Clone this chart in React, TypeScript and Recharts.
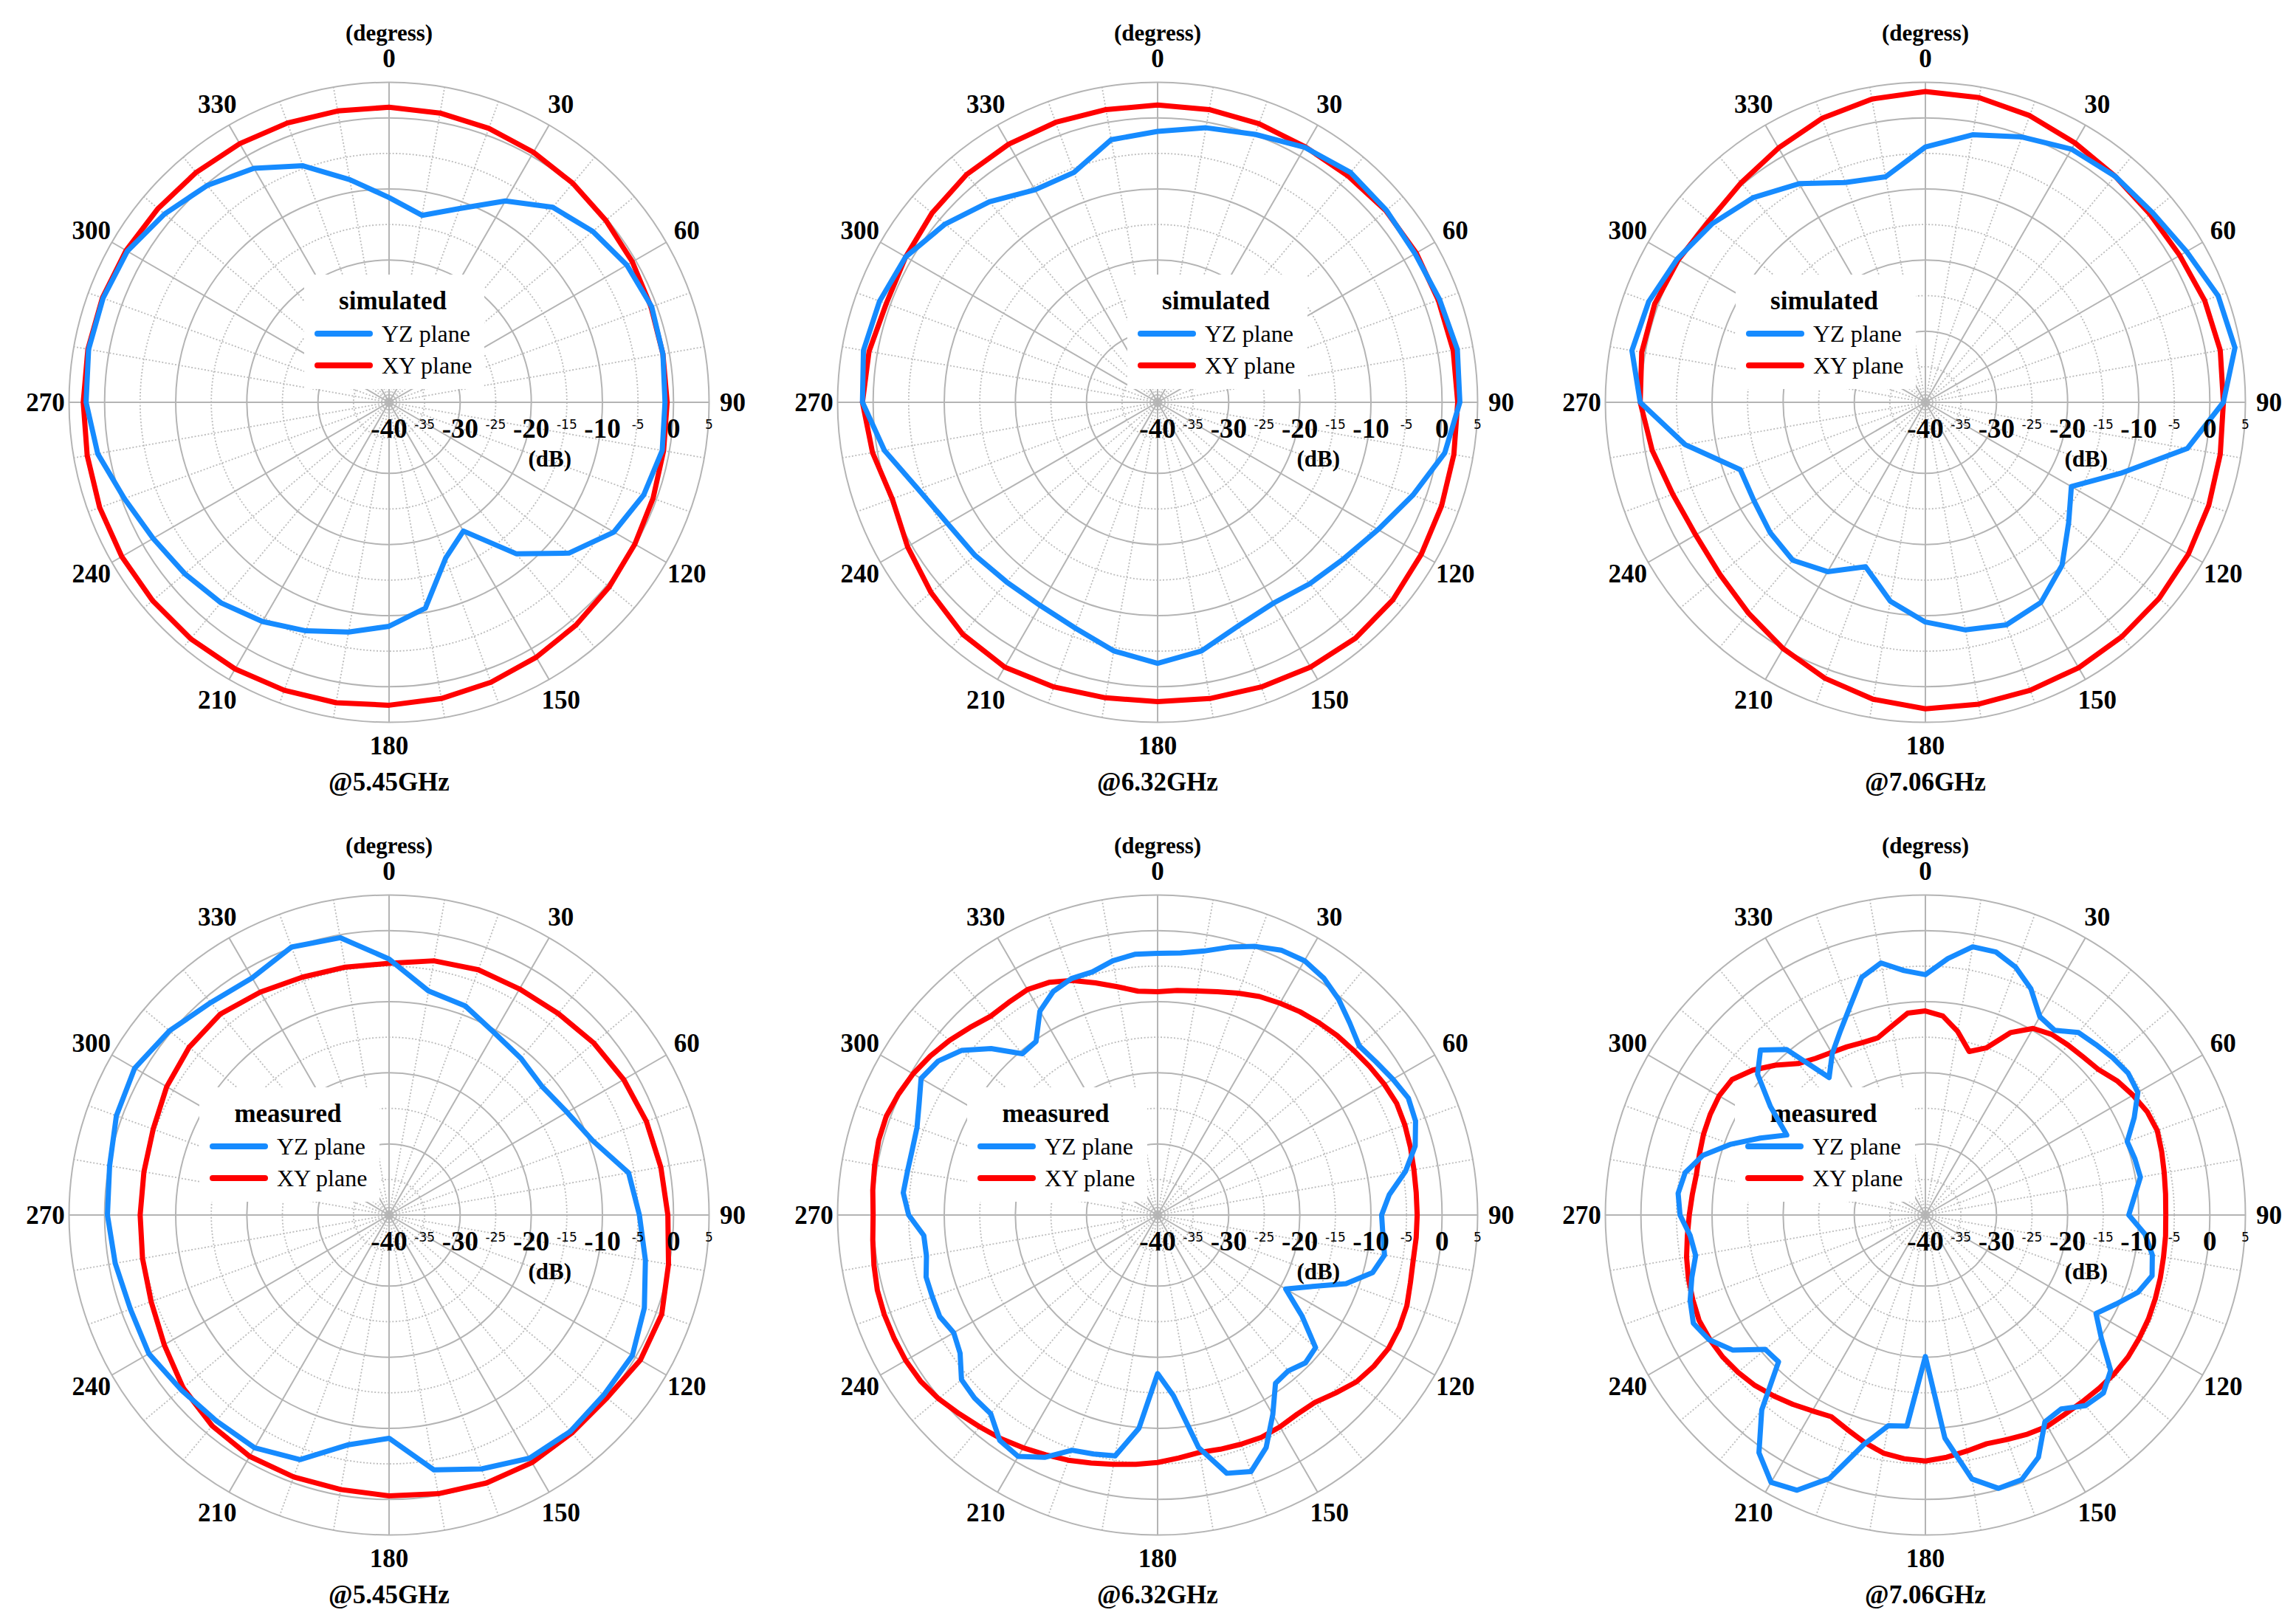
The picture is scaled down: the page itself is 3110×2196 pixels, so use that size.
import React from 'react';
import { RadarChart, Radar, PolarGrid, PolarAngleAxis, PolarRadiusAxis } from 'recharts';

// angle categories (degrees, clockwise from top)
const ANGLES_10 = Array.from({ length: 36 }, (_, i) => i * 10);
const ANGLES_5 = Array.from({ length: 72 }, (_, i) => i * 5);

const RADIUS_TICKS = [-40, -35, -30, -25, -20, -15, -10, -5, 0, 5];
const SOLID_RINGS = [-30, -20, -10, 0, 5];
const DOTTED_RINGS = [-35, -25, -15, -5];

// simulated @5.45GHz (10 deg steps)
const sim545YZ = [-11.2, -13.3, -11.0, -7.3, -4.2, -2.6, -1.4, -0.7, -0.9, -1.2, -1.0, -1.9, -3.5, -7.0, -12.2, -19.1, -16.7, -10.6, -8.5, -7.2, -5.8, -4.4, -3.2, -2.5, -1.7, -0.4, 1.6, 2.6, 2.9, 2.8, 2.5, 1.2, -0.2, -2.0, -4.6, -8.2];
const sim545XY = [1.5, 1.3, 1.0, 0.6, 0.2, -0.2, -0.5, -0.8, -0.9, -0.9, -0.8, -0.5, -0.1, 0.4, 0.9, 1.4, 1.9, 2.3, 2.6, 2.9, 3.1, 3.3, 3.4, 3.4, 3.4, 3.3, 3.1, 3.0, 3.0, 2.9, 2.7, 2.4, 2.2, 2.0, 1.8, 1.6];

// simulated @6.32GHz
const sim632YZ = [-1.9, -0.8, 0.1, 1.4, 2.2, 2.0, 1.8, 2.2, 2.8, 2.5, 1.0, -1.8, -4.2, -5.8, -6.7, -7.4, -6.6, -4.5, -3.3, -4.5, -6.2, -7.0, -7.0, -6.5, -5.9, -4.2, -1.0, 1.5, 2.0, 1.6, 0.9, -1.0, -3.2, -5.5, -5.6, -2.5];
const sim632XY = [1.8, 1.8, 1.7, 1.5, 1.6, 1.9, 2.0, 2.0, 2.2, 2.2, 2.3, 2.5, 2.8, 3.2, 3.3, 3.0, 2.6, 2.3, 2.1, 2.2, 2.6, 3.0, 2.6, 1.6, 0.6, -0.3, 0.7, 1.5, 1.2, 0.6, 0.9, 1.4, 1.8, 1.9, 1.9, 1.8];

// simulated @7.06GHz
const sim706YZ = [-4.1, -1.8, -0.3, 1.1, 1.5, 1.6, 2.4, 3.8, 4.2, 1.9, -2.6, -10.8, -16.3, -13.7, -10.1, -7.5, -6.7, -7.5, -9.1, -11.6, -15.4, -12.5, -11.0, -11.5, -12.2, -12.3, -5.7, 0.1, 1.9, 1.4, 0.3, -0.9, -2.4, -4.5, -7.1, -7.8];
const sim706XY = [3.7, 3.5, 2.9, 2.1, 1.5, 1.2, 1.3, 1.8, 2.1, 1.9, 2.1, 2.4, 2.7, 2.9, 3.0, 3.1, 3.1, 3.1, 3.1, 2.4, 1.3, 0.0, -1.3, -2.3, -2.7, -2.2, -1.0, 0.1, 0.5, 0.5, 0.1, -0.3, 0.3, 1.3, 2.5, 3.3];

// measured @5.45GHz (10 deg steps)
const meas545YZ = [-4.0, -8.0, -8.7, -10.4, -11.2, -11.9, -11.1, -9.5, -5.8, -4.8, -3.4, -1.8, -0.5, -0.6, -0.3, -0.5, -2.0, -3.6, -8.6, -7.2, -3.4, -2.2, -2.2, -1.8, -1.0, -1.3, -0.9, -0.4, -0.1, 0.8, 1.3, 0.3, -1.0, -1.5, 0.1, -0.4];
const meas545XY = [-4.6, -3.7, -3.3, -3.3, -3.0, -2.4, -1.9, -1.5, -1.2, -0.8, -0.1, 0.8, 0.8, 0.0, 0.0, 0.2, 0.1, -0.2, -0.5, -0.8, -0.8, -0.8, -1.3, -2.2, -3.5, -4.4, -4.8, -5.0, -5.0, -4.7, -3.9, -3.3, -3.1, -3.8, -4.4, -4.6];

// measured @6.32GHz (5 deg steps)
const meas632YZ = [
  -3.2, -3.0, -2.3, -1.0, 0.2, 1.1, 1.3, 0.7, -0.4, -1.8,
  -3.0, -2.5, -1.8, -1.1, -1.4, -2.5, -4.6, -7.3, -8.5, -8.2,
  -7.6, -8.7, -11.8, -16.2, -19.2, -15.2, -11.0, -10.6, -11.4, -11.1,
  -7.6, -3.9, -1.6, -2.4, -6.8, -14.5, -17.7, -9.9, -5.6, -5.2,
  -4.8, -2.4, -0.8, -1.3, -3.5, -3.6, -4.0, -6.1, -6.9, -6.2,
  -6.3, -6.3, -7.0, -7.0, -5.0, -4.1, -4.3, -4.3, -4.0, -3.0,
  -1.6, -2.3, -4.0, -6.9, -10.4, -10.2, -6.9, -5.3, -4.6, -4.6,
  -3.7, -3.2,
];
const meas632XY = [
  -8.6, -8.3, -8.0, -7.5, -6.8, -6.1, -5.6, -5.1, -4.7, -4.3,
  -4.0, -3.6, -3.2, -2.9, -3.0, -3.2, -3.4, -3.5, -3.5, -3.5,
  -3.5, -3.2, -2.7, -2.5, -2.5, -2.9, -3.5, -4.6, -5.6, -5.8,
  -5.6, -5.5, -5.7, -5.9, -6.1, -5.7, -5.2, -4.8, -4.4, -3.9,
  -3.3, -2.8, -2.2, -1.6, -1.1, -0.5, 0.2, 0.7, 0.9, 0.9,
  0.9, 0.8, 0.5, 0.2, 0.0, 0.2, 0.4, 0.6, 0.6, 0.2,
  -0.3, -1.0, -1.8, -2.7, -3.5, -3.5, -3.4, -3.9, -4.9, -6.2,
  -7.4, -8.4,
];

// measured @7.06GHz (5 deg steps)
const meas706YZ = [
  -6.2, -3.8, -1.7, -1.7, -2.9, -4.9, -7.8, -8.3, -6.5, -6.1,
  -5.6, -5.2, -5.5, -7.6, -9.8, -9.5, -9.3, -10.5, -11.4, -9.0,
  -7.6, -7.0, -8.2, -10.4, -12.3, -9.8, -6.0, -4.6, -5.0, -6.7,
  -6.4, -2.4, -0.4, -0.2, -2.3, -8.5, -20.1, -10.2, -9.9, -6.6,
  -0.6, 2.7, 3.4, 0.8, -4.2, -10.8, -10.6, -6.9, -4.9, -4.0,
  -4.8, -6.0, -7.2, -6.8, -5.5, -5.1, -5.7, -7.6, -10.9, -14.4,
  -17.5, -13.4, -9.2, -7.2, -9.6, -16.4, -13.8, -11.6, -8.9, -5.4,
  -4.0, -5.5,
];
const meas706XY = [
  -11.3, -11.9, -13.8, -16.2, -15.0, -11.7, -9.7, -9.0, -8.8, -8.6,
  -8.2, -7.1, -6.3, -5.6, -5.3, -5.6, -5.9, -6.1, -6.2, -6.1,
  -6.0, -5.8, -5.6, -5.4, -5.3, -5.2, -5.3, -5.5, -5.7, -5.8,
  -5.7, -6.0, -6.4, -6.7, -6.3, -5.8, -5.4, -5.6, -6.0, -6.9,
  -7.9, -8.7, -8.2, -7.5, -6.8, -6.1, -5.6, -5.2, -5.0, -4.9,
  -5.2, -5.5, -5.9, -6.4, -6.8, -7.1, -7.3, -7.1, -6.8, -6.6,
  -6.5, -6.8, -8.3, -10.2, -12.2, -13.1, -13.6, -13.9, -14.2, -14.2,
  -13.0, -11.5,
];

const CHARTS = [
  { title: '@5.45GHz', kind: 'simulated', legendDx: -97, angles: ANGLES_10, yz: sim545YZ, xy: sim545XY },
  { title: '@6.32GHz', kind: 'simulated', legendDx: -23, angles: ANGLES_10, yz: sim632YZ, xy: sim632XY },
  { title: '@7.06GHz', kind: 'simulated', legendDx: -239, angles: ANGLES_10, yz: sim706YZ, xy: sim706XY },
  { title: '@5.45GHz', kind: 'measured', legendDx: -239, angles: ANGLES_10, yz: meas545YZ, xy: meas545XY },
  { title: '@6.32GHz', kind: 'measured', legendDx: -240, angles: ANGLES_5, yz: meas632YZ, xy: meas632XY },
  { title: '@7.06GHz', kind: 'measured', legendDx: -240, angles: ANGLES_5, yz: meas706YZ, xy: meas706XY },
];

const COL_LEFT = [7, 1048, 2088];
const ROW_TOP = [0, 1101];
const W = 1040;
const H = 1100;
const CX = 520;
const CY = 545;
const OUTER_R = 433.5;
const R_MIN = -40;
const R_MAX = 5;

const BLUE = '#168bff';
const RED = '#ff0000';
const GRID = '#b4b4b4';
const SERIF = '"Liberation Serif", "Times New Roman", serif';
const SANS = '"DejaVu Sans", Verdana, sans-serif';

const ringPx = (v: number) => ((v - R_MIN) / (R_MAX - R_MIN)) * OUTER_R;
const solidAngles = ANGLES_10.filter(a => a % 30 === 0);
const dottedAngles = ANGLES_10.filter(a => a % 30 !== 0);

const AngleTick = (props: any) => {
  const { x, y, payload } = props;
  const v = Number(payload.value);
  if (v % 30 !== 0) return <g />;
  return (
    <g>
      <text x={x} y={y} textAnchor="middle" dominantBaseline="central"
        fontFamily={SERIF} fontWeight="bold" fontSize={35} fill="#000">{v}</text>
      {v === 0 && (
        <text x={x} y={y - 35} textAnchor="middle" dominantBaseline="central"
          fontFamily={SERIF} fontWeight="bold" fontSize={31} fill="#000">(degress)</text>
      )}
    </g>
  );
};

const RadiusTick = (props: any) => {
  const { x, y, payload } = props;
  const v = Number(payload.value);
  const big = v % 10 === 0;
  return (
    <g>
      {big ? (
        <text x={x} y={y + 35} textAnchor="middle" dominantBaseline="central"
          fontFamily={SERIF} fontWeight="bold" fontSize={37} fill="#000">{v}</text>
      ) : (
        <text x={x} y={y + 30} textAnchor="middle" dominantBaseline="central"
          fontFamily={SANS} fontSize={17} fill="#000">{v}</text>
      )}
      {v === -15 && (
        <text x={x - 23} y={y + 76} textAnchor="middle" dominantBaseline="central"
          fontFamily={SERIF} fontWeight="bold" fontSize={31} fill="#000">(dB)</text>
      )}
    </g>
  );
};

const LegendBox = ({ dx, title }: { dx: number; title: string }) => {
  const x0 = CX + dx;
  return (
    <g>
      <rect x={x0 - 18} y={CY - 173} width={244} height={155} fill="#fff" />
      <text x={x0 + 102} y={CY - 126} textAnchor="middle" fontFamily={SERIF}
        fontWeight="bold" fontSize={35} fill="#000">{title}</text>
      <line x1={x0} x2={x0 + 71} y1={CY - 93} y2={CY - 93} stroke={BLUE} strokeWidth={8} strokeLinecap="round" />
      <text x={x0 + 87} y={CY - 82} fontFamily={SERIF} fontSize={32} fill="#000">YZ plane</text>
      <line x1={x0} x2={x0 + 71} y1={CY - 50} y2={CY - 50} stroke={RED} strokeWidth={8} strokeLinecap="round" />
      <text x={x0 + 87} y={CY - 39} fontFamily={SERIF} fontSize={32} fill="#000">XY plane</text>
    </g>
  );
};

const PatternChart = ({ cfg }: { cfg: typeof CHARTS[number] }) => {
  const data = cfg.angles.map((a, i) => ({ angle: a, yz: cfg.yz[i], xy: cfg.xy[i] }));
  return (
    <RadarChart width={W} height={H} data={data} cx={CX} cy={CY} innerRadius={0} outerRadius={OUTER_R}
      startAngle={90} endAngle={-270} margin={{ top: 0, right: 0, bottom: 0, left: 0 }}>
      <PolarGrid gridType="circle" polarAngles={dottedAngles} polarRadius={DOTTED_RINGS.map(ringPx)}
        stroke="#bcbcbc" strokeWidth={1.8} strokeDasharray="2 2.5" />
      <PolarGrid gridType="circle" polarAngles={solidAngles} polarRadius={SOLID_RINGS.map(ringPx)}
        stroke={GRID} strokeWidth={2} />
      <PolarAngleAxis dataKey="angle" tick={AngleTick} tickLine={false} axisLine={false} tickSize={32} />
      <PolarRadiusAxis angle={0} type="number" domain={[R_MIN, R_MAX]} ticks={RADIUS_TICKS} tickCount={10}
        allowDataOverflow axisLine={false} tickLine={false} tick={RadiusTick} />
      <LegendBox dx={cfg.legendDx} title={cfg.kind} />
      <Radar dataKey="xy" stroke={RED} strokeWidth={7} fill="none" fillOpacity={0}
        strokeLinejoin="round" isAnimationActive={false} />
      <Radar dataKey="yz" stroke={BLUE} strokeWidth={7} fill="none" fillOpacity={0}
        strokeLinejoin="round" isAnimationActive={false} />
      <text x={CX} y={1071} textAnchor="middle" fontFamily={SERIF} fontWeight="bold" fontSize={35} fill="#000">
        {cfg.title}
      </text>
    </RadarChart>
  );
};

export default function App() {
  return (
    <div style={{ position: 'absolute', left: 0, top: 0, width: 3110, height: 2196, background: '#fff' }}>
      {CHARTS.map((cfg, i) => (
        <div key={i} style={{ position: 'absolute', left: COL_LEFT[i % 3], top: ROW_TOP[Math.floor(i / 3)], width: W, height: H }}>
          <PatternChart cfg={cfg} />
        </div>
      ))}
    </div>
  );
}
